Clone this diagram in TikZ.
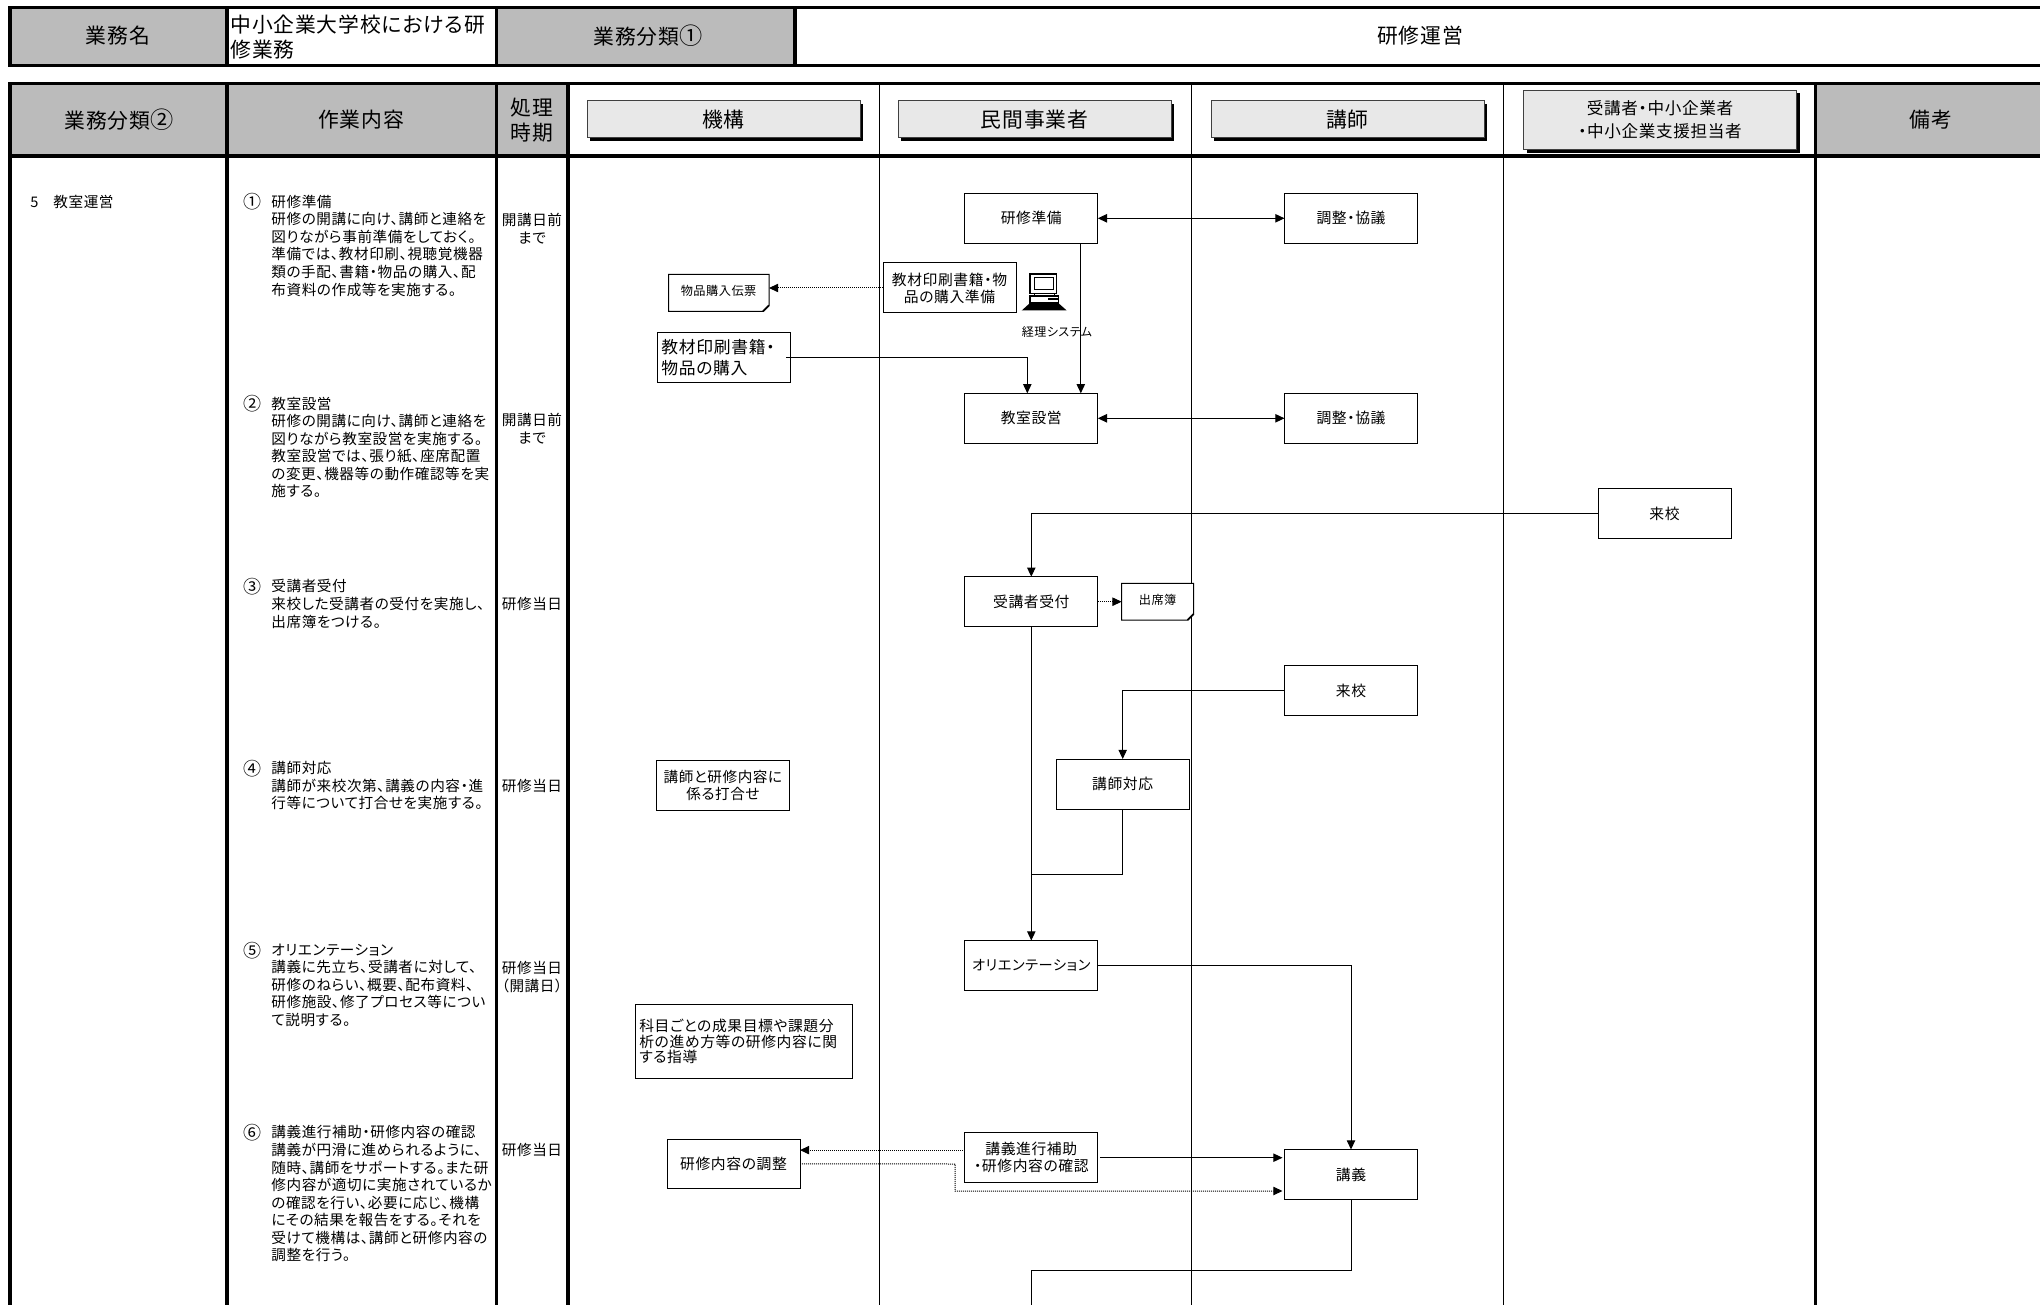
\documentclass[tikz,border=0pt]{standalone}
\usepackage{fontspec}
\usetikzlibrary{arrows.meta,shadows}
\setmainfont{Noto Sans CJK JP}[RawFeature=+palt,LetterSpace=4]
\definecolor{hdrgray}{HTML}{BBBBBB}
\definecolor{lanegray}{HTML}{E8E8E8}
\newcommand{\fs}[2]{\fontsize{#1}{#2}\selectfont}
\newcommand{\cnum}[1]{{\fs{9}{9}#1}}
\tikzset{
  thickrule/.style={line width=1.6pt,black},
  thinrule/.style={line width=.5pt,black},
  hdrtext/.style={inner sep=0pt,align=center,font=\fs{10.4}{12.5}},
  lanehdr/.style={draw=black!75,line width=.5pt,fill=lanegray,inner sep=0pt,align=center,minimum height=18.5pt,minimum width=136.5pt,outer sep=0pt,
    drop shadow={shadow xshift=1.7pt,shadow yshift=-1.7pt,fill=black,opacity=1},font=\fs{10.4}{12.5}},
  body/.style={inner sep=0pt,anchor=north west,align=left,font=\fs{7.3}{8.78}},
  num/.style={inner sep=0pt,font=\fs{7.3}{8.78}},
  timing/.style={inner sep=0pt,align=center,anchor=north,font=\fs{7.3}{8.95}},
  flowbox/.style={draw=black,line width=.5pt,fill=white,inner sep=0pt,outer sep=0pt,align=center,minimum width=66.5pt,minimum height=25pt,font=\fs{7.4}{8.5}},
  docbox/.style={inner sep=0pt,outer sep=0pt,align=center,font=\fs{6.1}{7.5}},
  docline/.style={draw=black,line width=.5pt,fill=white},
  conn/.style={line width=.5pt,black},
  arr/.style={conn,-{Triangle[length=4.6pt,width=4.2pt]}},
  biarr/.style={conn,{Triangle[length=4.6pt,width=4.2pt]}-{Triangle[length=4.6pt,width=4.2pt]}},
  dotarr/.style={line width=.5pt,black,dash pattern=on .5pt off .5pt,-{Triangle[length=4.6pt,width=4.2pt,fill=black]}},
}
\begin{document}
\begin{tikzpicture}[x=.5pt,y=-.5pt]
\useasboundingbox (0,0) rectangle (2040,1305);
% --- fills
\fill[hdrgray] (10,7.3) rectangle (227,65.3);
\fill[hdrgray] (496.4,7.3) rectangle (795,65.3);
\fill[hdrgray] (10,83.3) rectangle (568,156);
\fill[hdrgray] (1815.5,83.3) rectangle (2040,156);
% --- lane lines
\foreach \xx in {879.3,1191.5,1503}{\draw[thinrule] (\xx,83.3) -- (\xx,1305);}
% --- top table
\draw[thickrule] (2040,7.3) -- (10,7.3) -- (10,65.3) -- (2040,65.3);
\foreach \xx in {227,496.4,795}{\draw[thickrule] (\xx,7.3) -- (\xx,65.3);}
% --- main table
\draw[thickrule] (2040,83.3) -- (10,83.3) -- (10,1305);
\draw[thickrule] (10,156) -- (2040,156);
\foreach \xx in {227,496.4,568,1815.5}{\draw[thickrule] (\xx,83.3) -- (\xx,1305);}
% --- header texts
\node[hdrtext] (h1) at (118,36) {業務名};
\node[hdrtext,anchor=west,align=left] (h2) at (230,37.5) {中小企業大学校における研\\修業務};
\node[hdrtext] (h3) at (648,36) {業務分類{\fs{11.6}{12.5}①}};
\node[hdrtext] (h4) at (1420,36) {研修運営};
\node[hdrtext] (h5) at (119,120) {業務分類{\fs{11.6}{12.5}②}};
\node[hdrtext] (h6) at (361,120) {作業内容};
\node[hdrtext] (h7) at (532,120) {処理\\時期};
\node[hdrtext] (h8) at (1931,120) {備考};
\node[lanehdr] (l1) at (723.5,119.5) {機構};
\node[lanehdr] (l2) at (1034.5,119.5) {民間事業者};
\node[lanehdr] (l3) at (1347.5,119.5) {講師};
\node[lanehdr,minimum height=29.6pt,font=\fs{8.3}{11.4}] (l4) at (1660,119.7) {受講者・中小企業者\\・中小企業支援担当者};
% --- left column
\node[num,anchor=west] (c5) at (30,202) {5};
\node[num,anchor=west] (c5t) at (53,202) {教室運営};
\node[num] (n1) at (252.7,202) {\cnum{①}};
\node[body] (b1) at (271,194.5) {研修準備\\研修の開講に向け、講師と連絡を\\図りながら事前準備をしておく。\\準備では、教材印刷、視聴覚機器\\類の手配、書籍・物品の購入、配\\布資料の作成等を実施する。};
\node[num] (n2) at (252.7,404) {\cnum{②}};
\node[body] (b2) at (271,396.5) {教室設営\\研修の開講に向け、講師と連絡を\\図りながら教室設営を実施する。\\教室設営では、張り紙、座席配置\\の変更、機器等の動作確認等を実\\施する。};
\node[num] (n3) at (252.7,586.7) {\cnum{③}};
\node[body] (b3) at (271,579.2) {受講者受付\\来校した受講者の受付を実施し、\\出席簿をつける。};
\node[num] (n4) at (252.7,768.3) {\cnum{④}};
\node[body] (b4) at (271,760.8) {講師対応\\講師が来校次第、講義の内容・進\\行等について打合せを実施する。};
\node[num] (n5) at (252.7,950.7) {\cnum{⑤}};
\node[body] (b5) at (271,943.2) {オリエンテーション\\講義に先立ち、受講者に対して、\\研修のねらい、概要、配布資料、\\研修施設、修了プロセス等につい\\て説明する。};
\node[num] (n6) at (252.7,1132.7) {\cnum{⑥}};
\node[body] (b6) at (271,1125.2) {講義進行補助・研修内容の確認\\講義が円滑に進められるように、\\随時、講師をサポートする。また研\\修内容が適切に実施されているか\\の確認を行い、必要に応じ、機構\\にその結果を報告をする。それを\\受けて機構は、講師と研修内容の\\調整を行う。};
% --- timing
\node[timing] (t1) at (532,213) {開講日前\\まで};
\node[timing] (t2) at (532,412.5) {開講日前\\まで};
\node[timing] (t3) at (532,596.5) {研修当日};
\node[timing] (t4) at (532,779.2) {研修当日};
\node[timing] (t5) at (532,960.5) {研修当日\\（開講日）};
\node[timing] (t6) at (532,1143.2) {研修当日};
% --- flow boxes
\node[flowbox] (prep) at (1031.3,218.3) {研修準備};
\node[flowbox] (adj1) at (1351,218.3) {調整・協議};
\node[flowbox] (buyprep) at (949.5,288) {教材印刷書籍・物\\品の購入準備};
\node[flowbox,align=left,text width=62.5pt,inner sep=2pt,font=\fs{8.4}{10.3}] (buy) at (723.9,357.3) {教材印刷書籍・\\物品の購入};
\node[flowbox] (room) at (1031.3,418.3) {教室設営};
\node[flowbox] (adj2) at (1351,418.3) {調整・協議};
\node[flowbox] (come1) at (1664.5,513.7) {来校};
\node[flowbox] (recep) at (1031.3,601.7) {受講者受付};
\node[flowbox] (come2) at (1351,690.7) {来校};
\node[flowbox] (instr) at (1122.7,784) {講師対応};
\node[flowbox,font=\fs{7.3}{8.5}] (meet) at (722.9,785.5) {講師と研修内容に\\係る打合せ};
\node[flowbox,font=\fs{7.1}{8.5}] (orient) at (1031.3,965.5) {オリエンテーション};
\node[flowbox,align=left,text width=104.4pt,inner sep=2pt,minimum width=108.4pt,minimum height=36.7pt,font=\fs{7.4}{7.9}] (guide) at (743.7,1041.4) {科目ごとの成果目標や課題分\\析の進め方等の研修内容に関\\する指導};
\node[flowbox,minimum height=24.5pt] (tune) at (733.5,1163.8) {研修内容の調整};
\node[flowbox] (assist) at (1031.3,1157.7) {講義進行補助\\・研修内容の確認};
\node[flowbox] (lect) at (1351,1174.5) {講義};
% --- document shapes
\node[docbox,minimum width=50.2pt,minimum height=18.5pt] (slip) at (718.8,292.8) {};
\draw[docline] (slip.north west) -- (slip.north east) -- ([yshift=3pt]slip.south east) -- ([xshift=-3pt]slip.south east) -- (slip.south west) -- cycle;
\draw[line width=.9pt] ([yshift=3pt]slip.south east) -- ([xshift=-3pt]slip.south east);
\node[docbox] (sliptext) at (718.6,290.7) {物品購入伝票};
\node[docbox,minimum width=36pt,minimum height=18.3pt] (attend) at (1157.6,601.7) {};
\draw[docline] (attend.north west) -- (attend.north east) -- ([yshift=3pt]attend.south east) -- ([xshift=-3pt]attend.south east) -- (attend.south west) -- cycle;
\draw[line width=.9pt] ([yshift=3pt]attend.south east) -- ([xshift=-3pt]attend.south east);
\node[docbox] (attendtext) at (1157.6,600) {出席簿};
% --- computer icon
\draw[line width=.55pt,fill=white] (1030,274) rectangle (1056.7,293.3);
\draw[line width=.5pt,fill=white] (1034,277.3) rectangle (1053.3,290);
\draw[line width=.5pt] (1034,293.3) -- (1034,296) (1054,293.3) -- (1054,296);
\draw[line width=.55pt,fill=white] (1030,296) rectangle (1058.3,303);
\fill[black] (1047.5,298.3) rectangle (1058,300);
\fill[black] (1030,303) -- (1058.3,303) -- (1066.7,310.5) -- (1021.7,310.5) -- cycle;
\node[docbox,font=\fs{6}{7}] (acct) at (1057,331.7) {経理システム};
% --- connectors
\coordinate (merge) at (1031.3,874);
\coordinate (dotturn) at (955.2,1164);
\coordinate (lectbend) at (1031.3,1270.7);
\coordinate (exit) at (1031.3,1305);
\draw[biarr] (prep.east) -- (adj1.west);
\draw[biarr] (room.east) -- (adj2.west);
\draw[arr] ([xshift=24.75pt]prep.south) -- ([xshift=24.75pt]room.north);
\draw[arr] ([xshift=-2pt]buy.east) -| ([xshift=-2pt]room.north);
\draw[dotarr] (buyprep.west) -- (buyprep.west -| slip.east);
\draw[arr] (come1.west) -| (recep.north);
\draw[dotarr] (recep.east) -- (attend.west);
\draw[arr] (recep.south) -- (orient.north);
\draw[arr] (come2.west) -| (instr.north);
\draw[conn] (instr.south) |- (merge);
\draw[arr] (orient.east) -| (lect.north);
\draw[arr] ([xshift=1pt]assist.east) -- ([xshift=-1pt]assist.east -| lect.west);
\draw[dotarr] ([yshift=3.8pt]assist.west) -- ([yshift=3.8pt]assist.west -| tune.east);
\draw[dotarr] (tune.east) -- (dotturn) |- ([xshift=-1pt,yshift=-8.25pt]lect.west);
\draw[conn] (lect.south) |- (lectbend) -- (exit);
\end{tikzpicture}
\end{document}
